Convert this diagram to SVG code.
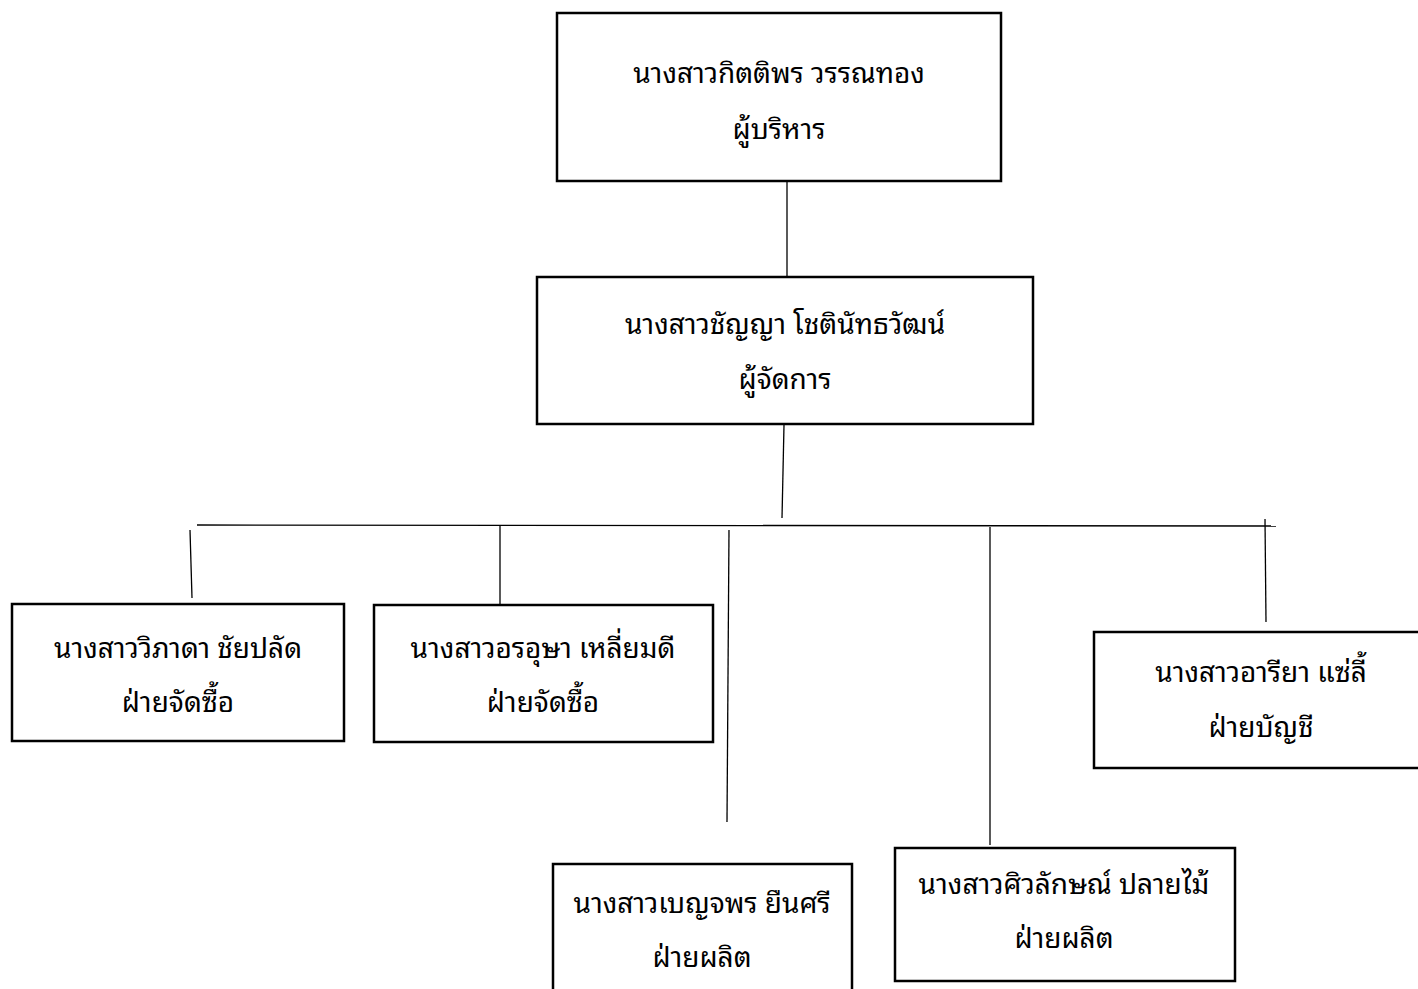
<svg xmlns="http://www.w3.org/2000/svg" width="1418" height="989" viewBox="0 0 1418 989">
<style>
.box{fill:#fff;stroke:#000;stroke-width:2.5}
.ln{stroke:#000;stroke-width:1.3;fill:none}
text{font-family:"Noto Sans Thai Looped","Loma","Garuda","Noto Serif Thai","Noto Sans Thai","Noto Sans",sans-serif;font-size:28px;fill:#000;text-anchor:middle}
</style>
<rect width="1418" height="989" fill="#fff"/>
<g id="connectors">
<line class="ln" x1="787" y1="182" x2="787" y2="278"/>
<line class="ln" x1="784" y1="425" x2="782" y2="518"/>
<line class="ln" x1="197" y1="525" x2="1276" y2="526"/>
<line class="ln" x1="190" y1="530" x2="192" y2="598"/>
<line class="ln" x1="500" y1="525" x2="500" y2="604"/>
<line class="ln" x1="729" y1="530" x2="727" y2="822"/>
<line class="ln" x1="990" y1="527" x2="990" y2="845"/>
<line class="ln" x1="1265" y1="519" x2="1266" y2="622"/>
</g>
<g id="n1"><rect class="box" x="557" y="13" width="444" height="168"/><text x="779" y="83">นางสาวกิตติพร วรรณทอง</text><text x="779" y="139">ผู้บริหาร</text></g>
<g id="n2"><rect class="box" x="537" y="277" width="496" height="147"/><text x="785" y="334">นางสาวชัญญา โชตินัทธวัฒน์</text><text x="785" y="389">ผู้จัดการ</text></g>
<g id="n3"><rect class="box" x="12" y="604" width="332" height="137"/><text x="178" y="658">นางสาววิภาดา ชัยปลัด</text><text x="178" y="712">ฝ่ายจัดซื้อ</text></g>
<g id="n4"><rect class="box" x="374" y="605" width="339" height="137"/><text x="543" y="658">นางสาวอรอุษา เหลี่ยมดี</text><text x="543" y="712">ฝ่ายจัดซื้อ</text></g>
<g id="n5"><rect class="box" x="553" y="864" width="299" height="130"/><text x="702" y="913">นางสาวเบญจพร ยืนศรี</text><text x="702" y="967">ฝ่ายผลิต</text></g>
<g id="n6"><rect class="box" x="895" y="848" width="340" height="133"/><text x="1064" y="894">นางสาวศิวลักษณ์ ปลายไม้</text><text x="1064" y="948">ฝ่ายผลิต</text></g>
<g id="n7"><rect class="box" x="1094" y="632" width="330" height="136"/><text x="1261" y="682">นางสาวอารียา แซ่ลี้</text><text x="1261" y="737">ฝ่ายบัญชี</text></g>
</svg>
